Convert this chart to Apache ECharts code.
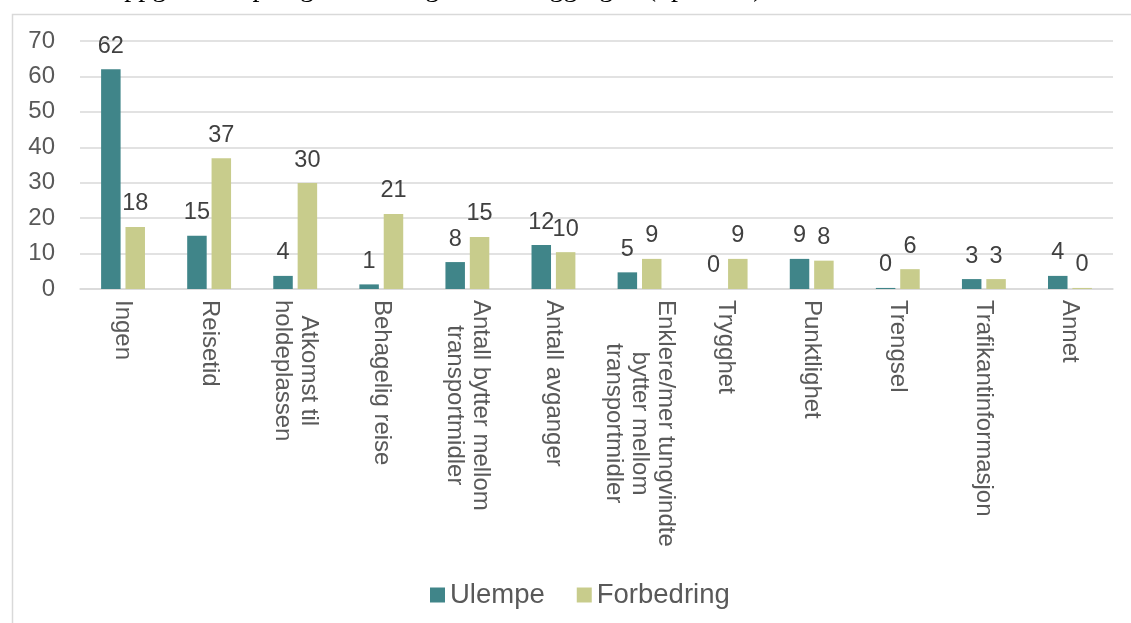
<!DOCTYPE html>
<html>
<head>
<meta charset="utf-8">
<script src="https://cdn.jsdelivr.net/npm/echarts@6/dist/echarts.min.js"></script>
<style>
  html, body { margin: 0; padding: 0; background: #fff; }
  #chart { width: 1131px; height: 623px; }
</style>
</head>
<body>
<div id="chart"></div>
<script>
// kategorier langs x-aksen
const categories = [
  "Ingen",
  "Reisetid",
  "Atkomst til\nholdeplassen",
  "Behagelig reise",
  "Antall bytter mellom\ntransportmidler",
  "Antall avganger",
  "Enklere/mer tungvindte\nbytter mellom\ntransportmidler",
  "Trygghet",
  "Punktlighet",
  "Trengsel",
  "Trafikantinformasjon",
  "Annet"
];
// prosent, lest av figuren
const ulempe = [62, 15, 3.7, 1.3, 7.6, 12.4, 4.7, 0, 8.5, 0.3, 2.8, 3.7];
const forbedring = [17.5, 36.9, 29.9, 21.2, 14.7, 10.4, 8.5, 8.5, 8.0, 5.6, 2.8, 0.3];
const seriesNames = ["Ulempe", "Forbedring"];
const yTicks = { min: 0, max: 70, interval: 10 };

const font = "'Liberation Sans', Arial, sans-serif";
const gridColor = "#D9D9D9";

let chart = echarts.init(document.getElementById("chart"));

function barLabel() {
  return {
    show: true,
    position: "top",
    distance: 11,
    fontFamily: font,
    fontSize: 23.5,
    color: "#404040",
    formatter: function(p) {
      return Math.round(p.value);
    }
  };
}

let option = {
  backgroundColor: "#fff",
  animation: false,
  textStyle: { fontFamily: font },
  graphic: [
    // ramme rundt diagrammet
    {
      type: "rect",
      left: 10,
      top: 12,
      z: -1,
      shape: { width: 1300, height: 700 },
      style: { fill: "none", stroke: gridColor, lineWidth: 1.5 }
    },
    // tittel, nesten helt skåret bort øverst (bare nedre del av bokstavene synes)
    {
      type: "text",
      x: 104,
      y: -25,
      style: {
        text: "Oppgitt ulempe og forbedring ved omleggingen (i prosent)",
        font: "28px 'Liberation Serif', 'Times New Roman', serif",
        fill: "#000",
        verticalAlign: "top"
      }
    }
  ],
  legend: {
    data: seriesNames,
    left: 425,
    top: 576,
    itemWidth: 15,
    itemHeight: 15,
    itemGap: 32,
    icon: "rect",
    textStyle: { fontFamily: font, fontSize: 27.5, color: "#595959" }
  },
  grid: {
    left: 80,
    right: 18,
    top: 41,
    bottom: 334,
    containLabel: false
  },
  xAxis: {
    type: "category",
    data: categories,
    axisLine: { lineStyle: { color: gridColor, width: 1.5 } },
    axisTick: { show: false },
    axisLabel: {
      rotate: -90,
      interval: 0,
      margin: 11,
      formatter: function(value) {
        // hver linje midtstilt i blokken
        return value.split("\n").map(s => "{c|" + s + "}").join("\n");
      },
      rich: {
        c: {
          align: "center",
          fontFamily: font,
          fontSize: 24,
          lineHeight: 26,
          color: "#595959"
        }
      }
    }
  },
  yAxis: {
    type: "value",
    min: yTicks.min,
    max: yTicks.max,
    interval: yTicks.interval,
    axisLine: { show: false },
    axisTick: { show: false },
    axisLabel: {
      margin: 25,
      fontFamily: font,
      fontSize: 24,
      color: "#595959"
    },
    splitLine: { lineStyle: { color: gridColor, width: 1.5 } }
  },
  series: [
    {
      name: seriesNames[0],
      type: "bar",
      data: ulempe,
      barWidth: 19.5,
      barGap: "25%",
      itemStyle: { color: "#408589" },
      label: barLabel()
    },
    {
      name: seriesNames[1],
      type: "bar",
      data: forbedring,
      barWidth: 19.5,
      barGap: "25%",
      itemStyle: { color: "#C8CC8C" },
      label: barLabel()
    }
  ]
};

chart.setOption(option);
</script>
</body>
</html>
